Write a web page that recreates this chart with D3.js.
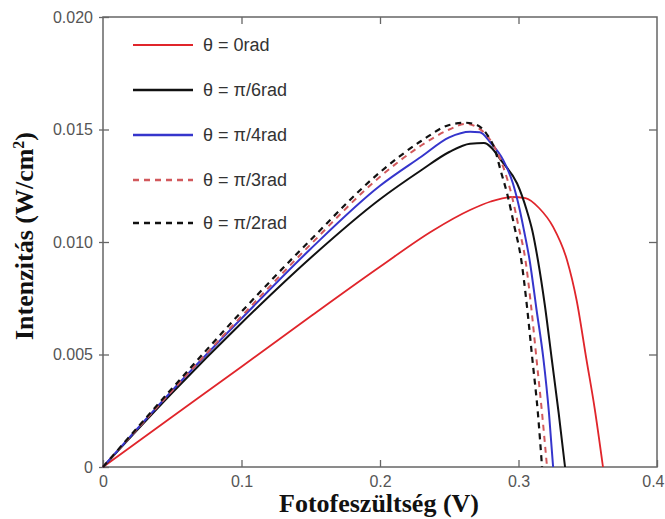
<!DOCTYPE html>
<html>
<head>
<meta charset="utf-8">
<script src="https://cdn.jsdelivr.net/npm/d3@7"></script>
<style>
html,body{margin:0;padding:0;background:#fff;}
svg{display:block;}
</style>
</head>
<body>
<svg id="chart" width="665" height="519"></svg>
<script>
// ---- data ----
const xTicks = [0, 0.1, 0.2, 0.3, 0.4];
const xTickLabels = ["0", "0.1", "0.2", "0.3", "0.4"];
const yTicks = [0, 0.005, 0.010, 0.015, 0.020];
const yTickLabels = ["0", "0.005", "0.010", "0.015", "0.020"];

const seriesNames = ["θ = 0rad", "θ = π/6rad", "θ = π/4rad", "θ = π/3rad", "θ = π/2rad"];

// voltage (V) and intensity (W/cm^2) for each series
const v0 =   [0, 0.05, 0.1, 0.15, 0.2, 0.238, 0.265, 0.28, 0.295, 0.305, 0.315, 0.325, 0.335, 0.342, 0.349, 0.355, 0.361];
const p0 =   [0, 0.00223, 0.00446, 0.0067, 0.0089, 0.0105, 0.01142, 0.0118, 0.0120, 0.01195, 0.0115, 0.01067, 0.0092, 0.0074, 0.0048, 0.0026, 0];

const v6 =   [0, 0.05, 0.1, 0.15, 0.2, 0.23, 0.25, 0.265, 0.275, 0.289, 0.299, 0.306, 0.31, 0.314, 0.319, 0.324, 0.329, 0.3336];
const p6 =   [0, 0.0033, 0.0064, 0.0093, 0.0119, 0.0132, 0.0140, 0.01437, 0.0144, 0.0135, 0.0126, 0.0114, 0.0105, 0.0092, 0.0072, 0.0048, 0.0024, 0];

const v4 =   [0, 0.05, 0.1, 0.15, 0.2, 0.23, 0.25, 0.265, 0.272, 0.28, 0.289, 0.296, 0.301, 0.304, 0.308, 0.313, 0.318, 0.322, 0.325];
const p4 =   [0, 0.0034, 0.0066, 0.0097, 0.0125, 0.0138, 0.01465, 0.0149, 0.01488, 0.0144, 0.01364, 0.0126, 0.0114, 0.0105, 0.0092, 0.0070, 0.0048, 0.0024, 0];

const v3 =   [0, 0.05, 0.1, 0.15, 0.2, 0.23, 0.25, 0.262, 0.27, 0.28, 0.288, 0.295, 0.3, 0.305, 0.309, 0.313, 0.317, 0.3206];
const p3 =   [0, 0.0034, 0.0067, 0.0099, 0.0129, 0.0143, 0.0150, 0.01525, 0.0151, 0.0145, 0.0135, 0.0121, 0.0107, 0.0092, 0.0072, 0.0048, 0.0024, 0];

const v2 =   [0, 0.05, 0.1, 0.15, 0.2, 0.23, 0.25, 0.262, 0.27, 0.277, 0.283, 0.287, 0.292, 0.297, 0.302, 0.306, 0.31, 0.314, 0.317];
const p2 =   [0, 0.0035, 0.0069, 0.0101, 0.0131, 0.0145, 0.0152, 0.0153, 0.0152, 0.0148, 0.0141, 0.0132, 0.0121, 0.0107, 0.0092, 0.0072, 0.0048, 0.0024, 0];

const seriesV = [v0, v6, v4, v3, v2];
const seriesP = [p0, p6, p4, p3, p2];

// ---- styles ----
const colors = ["#e0252b", "#111111", "#3535cc", "#d2595c", "#111111"];
const dashes = [null, null, null, "6,5", "6,5"];
const widths = [1.8, 2, 2, 2, 2.2];

// ---- layout ----
const svg = d3.select("#chart");
const L = 103, R = 657, T = 17, B = 467;
const x = d3.scaleLinear().domain([0, 0.4]).range([L, R]);
const y = d3.scaleLinear().domain([0, 0.02]).range([B, T]);
const axisColor = "#666";
const sans = "Arial, 'Liberation Sans', sans-serif";
const serif = "'Liberation Serif', 'Times New Roman', serif";

// frame
svg.append("rect").attr("x", L).attr("y", T).attr("width", R - L).attr("height", B - T)
  .attr("fill", "none").attr("stroke", axisColor).attr("stroke-width", 1.5);

// bottom axis (inward ticks)
const xAxis = d3.axisBottom(x).tickValues(xTicks).tickSize(-7).tickPadding(9)
  .tickFormat((d, i) => xTickLabels[i]);
const gx = svg.append("g").attr("transform", `translate(0,${B})`).call(xAxis);
gx.select(".domain").remove();
gx.selectAll("line").attr("stroke", axisColor).attr("stroke-width", 1.3);
gx.selectAll("text").attr("fill", "#555").style("font-family", sans).style("font-size", "16px");
gx.selectAll("text").filter((d, i) => i === xTicks.length - 1)
  .attr("text-anchor", "end").attr("x", 7);

// top ticks
const gxt = svg.append("g").attr("transform", `translate(0,${T})`)
  .call(d3.axisTop(x).tickValues(xTicks.slice(1, 4)).tickSize(-7).tickFormat(""));
gxt.select(".domain").remove();
gxt.selectAll("line").attr("stroke", axisColor).attr("stroke-width", 1.3);

// left axis
const yAxis = d3.axisLeft(y).tickValues(yTicks).tickSize(4).tickPadding(6)
  .tickFormat((d, i) => yTickLabels[i]);
const gy = svg.append("g").attr("transform", `translate(${L},0)`).call(yAxis);
gy.select(".domain").remove();
gy.selectAll("line").attr("x1", 6).attr("stroke", axisColor).attr("stroke-width", 1.3);
gy.selectAll("text").attr("fill", "#555").style("font-family", sans).style("font-size", "16px");

// right ticks
const gyr = svg.append("g").attr("transform", `translate(${R},0)`)
  .call(d3.axisRight(y).tickValues(yTicks.slice(1, 4)).tickSize(-8).tickFormat(""));
gyr.select(".domain").remove();
gyr.selectAll("line").attr("stroke", axisColor).attr("stroke-width", 1.3);

// curves
const line = d3.line().x(d => x(d[0])).y(d => y(d[1])).curve(d3.curveMonotoneX);
[0, 1, 2, 3, 4].forEach(i => {
  const pts = seriesV[i].map((v, k) => [v, seriesP[i][k]]);
  svg.append("path").datum(pts).attr("d", line)
    .attr("fill", "none").attr("stroke", colors[i]).attr("stroke-width", widths[i])
    .attr("stroke-dasharray", dashes[i]).attr("stroke-linejoin", "round");
});

// legend
const legY = [45, 90, 135, 180, 223];
seriesNames.forEach((name, i) => {
  svg.append("line").attr("x1", 133).attr("x2", 193).attr("y1", legY[i]).attr("y2", legY[i])
    .attr("stroke", colors[i]).attr("stroke-width", i === 0 ? 1.8 : 2.4)
    .attr("stroke-dasharray", dashes[i]);
  svg.append("text").attr("x", 203).attr("y", legY[i]).attr("dy", "0.35em")
    .attr("fill", "#333").style("font-family", sans)
    .style("font-size", "18px").text(name);
});

// axis titles
svg.append("text").attr("x", 379).attr("y", 512).attr("text-anchor", "middle")
  .style("font-family", serif).style("font-weight", "bold")
  .style("font-size", "26px").attr("fill", "#111").text("Fotofeszültség (V)");

const yt = svg.append("text").attr("transform", "translate(33,236) rotate(-90)").attr("text-anchor", "middle")
  .style("font-family", serif).style("font-weight", "bold")
  .style("font-size", "26px").attr("fill", "#111");
yt.append("tspan").text("Intenzitás (W/cm");
yt.append("tspan").attr("dy", -9).style("font-size", "16px").text("2");
yt.append("tspan").attr("dy", 9).text(")");
</script>
</body>
</html>
